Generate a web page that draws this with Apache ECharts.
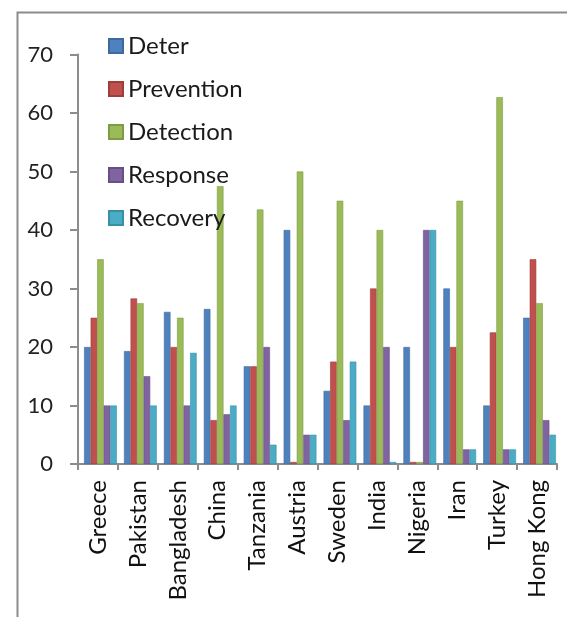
<!DOCTYPE html>
<html>
<head>
<meta charset="utf-8">
<script src="https://cdn.jsdelivr.net/npm/echarts@6/dist/echarts.min.js"></script>
<style>
  html, body { margin: 0; padding: 0; background: #fff; }
  #chart { width: 567px; height: 617px; }
</style>
</head>
<body>
<div id="chart"></div>
<script>
// Country groups along the x axis
const countries = ['Greece', 'Pakistan', 'Bangladesh', 'China', 'Tanzania', 'Austria',
                   'Sweden', 'India', 'Nigeria', 'Iran', 'Turkey', 'Hong Kong'];

// Scores per country for each capability
const deter      = [20, 19.3, 26, 26.5, 16.7, 40, 12.5, 10, 20, 30, 10, 25];
const prevention = [25, 28.3, 20, 7.5, 16.7, 0, 17.5, 30, 0, 20, 22.5, 35];
const detection  = [35, 27.5, 25, 47.5, 43.5, 50, 45, 40, 0, 45, 62.7, 27.5];
const response   = [10, 15, 10, 8.5, 20, 5, 7.5, 20, 40, 2.5, 2.5, 7.5];
const recovery   = [10, 10, 19, 10, 3.3, 5, 17.5, 0, 40, 2.5, 2.5, 5];

const yTicks = [0, 10, 20, 30, 40, 50, 60, 70];

const seriesDefs = [
  { name: 'Deter',      data: deter,      color: '#4F81BD', edge: '#3d6a9e' },
  { name: 'Prevention', data: prevention, color: '#C0504D', edge: '#9e3e3b' },
  { name: 'Detection',  data: detection,  color: '#9BBB59', edge: '#7f9c45' },
  { name: 'Response',   data: response,   color: '#8064A2', edge: '#674f86' },
  { name: 'Recovery',   data: recovery,   color: '#4BACC6', edge: '#3a8fa6' }
];

const FONT = 'Lato, "Open Sans", sans-serif';
const AXIS_GREY = '#8c8c8c';
const chart = echarts.init(document.getElementById('chart'), null, { renderer: 'canvas' });

chart.setOption({
  animation: false,
  backgroundColor: '#ffffff',
  graphic: [{
    type: 'rect',
    left: 15, top: 10,
    shape: { width: 620, height: 700 },
    style: { fill: 'none', stroke: AXIS_GREY, lineWidth: 2 },
    silent: true
  }],
  legend: {
    orient: 'vertical',
    left: 108,
    top: 34,
    padding: 0,
    itemWidth: 14,
    itemHeight: 14,
    itemGap: 19,
    icon: 'rect',
    textStyle: { fontFamily: FONT, fontSize: 24, color: '#1a1a1a', lineHeight: 22 },
    data: seriesDefs.map(s => s.name)
  },
  // grid 0 carries the visible axes; grid 1 holds the bars, set back slightly for depth
  grid: [
    { left: 78, right: 10, top: 54.5, bottom: 153, containLabel: false },
    { left: 80.5, right: 7.5, top: 54.5, bottom: 153, containLabel: false }
  ],
  xAxis: [{
    type: 'category',
    gridIndex: 0,
    data: countries,
    axisLine: { lineStyle: { color: AXIS_GREY, width: 2 } },
    axisTick: { show: true, length: 6, lineStyle: { color: AXIS_GREY, width: 2 } },
    axisLabel: {
      rotate: 90, margin: 16, interval: 0,
      fontFamily: FONT, fontSize: 24, color: '#111'
    }
  }, {
    type: 'category',
    gridIndex: 1,
    data: countries,
    show: false
  }],
  yAxis: [{
    type: 'value',
    gridIndex: 0,
    min: 0, max: 70, interval: 10,
    axisLine: { show: true, lineStyle: { color: AXIS_GREY, width: 2 } },
    axisTick: { show: true, length: 8, lineStyle: { color: AXIS_GREY, width: 2 } },
    splitLine: { show: false },
    axisLabel: {
      margin: 25, fontFamily: FONT, fontSize: 22, color: '#222',
      formatter: v => (yTicks.indexOf(v) >= 0 ? String(v) : '')
    }
  }, {
    type: 'value',
    gridIndex: 1,
    min: 0, max: 70, interval: 10,
    show: false
  }],
  series: seriesDefs.map(s => ({
    name: s.name,
    type: 'bar',
    xAxisIndex: 1,
    yAxisIndex: 1,
    data: s.data,
    barGap: '0%',
    barCategoryGap: '18%',
    barMinHeight: 2,
    itemStyle: { color: s.color, borderColor: s.edge, borderWidth: 0.6 }
  }))
});
</script>
</body>
</html>
